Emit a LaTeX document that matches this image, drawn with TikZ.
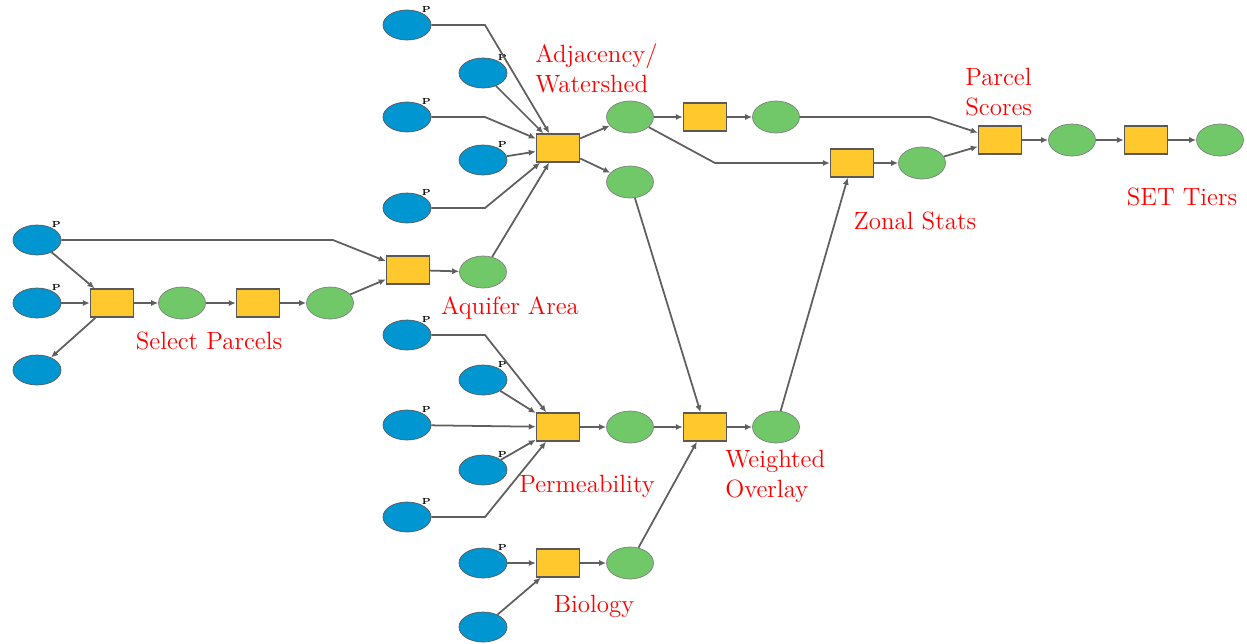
\documentclass[tikz,border=0pt]{standalone}
\usetikzlibrary{arrows.meta,shapes.geometric}
\definecolor{inblue}{RGB}{0,150,210}
\definecolor{outgreen}{RGB}{112,200,104}
\definecolor{toolyellow}{RGB}{255,200,45}
\definecolor{linkgray}{RGB}{95,95,95}

\tikzset{
  inputnode/.style={ellipse,draw=black!65,fill=inblue,minimum width=0.96cm,minimum height=0.6cm,inner sep=0pt},
  paramnode/.style={inputnode,label={[inner sep=0pt,font=\fontsize{5}{5}\selectfont\bfseries]40:P}},
  outputnode/.style={ellipse,draw=black!50,fill=outgreen,minimum width=0.94cm,minimum height=0.64cm,inner sep=0pt},
  toolnode/.style={rectangle,draw=black!65,line width=0.8pt,fill=toolyellow,minimum width=0.86cm,minimum height=0.56cm,inner sep=0pt},
  link/.style={draw=linkgray,line width=1pt,-{Latex[length=4pt,width=3.5pt]}},
  steplabel/.style={text=red,font=\fontsize{14.2}{17}\selectfont,inner sep=0pt}
}

\begin{document}
\begin{tikzpicture}[x=0.02cm,y=-0.02cm]
    \useasboundingbox (0,0) rectangle (1247,643);

    % select parcels
    \node[paramnode] (aq) at (37,240) {};
    \node[paramnode] (par) at (37,303) {};
    \node[inputnode] (sel) at (37,370) {};
    \node[toolnode] (tsel) at (112,303) {};
    \node[outputnode] (gsel) at (182,303) {};
    \node[toolnode] (tcopy) at (258,303) {};
    \node[outputnode] (gcopy) at (330,303) {};
    \node[toolnode] (tclip) at (408,270) {};
    \node[outputnode] (gclip) at (483,272) {};

    % adjacency / watershed
    \node[paramnode] (wa) at (407,25) {};
    \node[paramnode] (wb) at (483,73) {};
    \node[paramnode] (wc) at (407,117) {};
    \node[paramnode] (wd) at (483,160) {};
    \node[paramnode] (we) at (407,208) {};
    \node[toolnode] (tadj) at (558,148) {};
    \node[outputnode] (gadj) at (630,117) {};
    \node[outputnode] (gwat) at (630,182) {};
    \node[toolnode] (tjoin) at (705,117) {};
    \node[outputnode] (gjoin) at (776,117) {};

    % zonal stats, scores, tiers
    \node[toolnode] (tzone) at (852,163) {};
    \node[outputnode] (gzone) at (922,163) {};
    \node[toolnode] (tscore) at (1000,140) {};
    \node[outputnode] (gscore) at (1072,140) {};
    \node[toolnode] (ttier) at (1146,140) {};
    \node[outputnode] (gtier) at (1220,140) {};

    % permeability
    \node[paramnode] (pa) at (407,335) {};
    \node[paramnode] (pb) at (483,380) {};
    \node[paramnode] (pc) at (407,425) {};
    \node[paramnode] (pd) at (483,470) {};
    \node[paramnode] (pe) at (407,517) {};
    \node[toolnode] (tperm) at (558,427) {};
    \node[outputnode] (gperm) at (630,427) {};
    \node[toolnode] (twov) at (705,427) {};
    \node[outputnode] (gwov) at (776,427) {};

    % biology
    \node[paramnode] (ba) at (483,563) {};
    \node[inputnode] (bb) at (483,627) {};
    \node[toolnode] (tbio) at (558,563) {};
    \node[outputnode] (gbio) at (630,563) {};

    \draw[link] (aq) -- (333,240) -- (tclip);
    \draw[link] (aq) -- (tsel);
    \draw[link] (par) -- (tsel);
    \draw[link] (tsel) -- (sel);
    \draw[link] (tsel) -- (gsel);
    \draw[link] (gsel) -- (tcopy);
    \draw[link] (tcopy) -- (gcopy);
    \draw[link] (gcopy) -- (tclip);
    \draw[link] (tclip) -- (gclip);

    \draw[link] (wa) -- (485,25) -- (tadj);
    \draw[link] (wb) -- (tadj);
    \draw[link] (wc) -- (485,117) -- (tadj);
    \draw[link] (wd) -- (tadj);
    \draw[link] (we) -- (485,208) -- (tadj);
    \draw[link] (gclip) -- (tadj);
    \draw[link] (tadj) -- (gadj);
    \draw[link] (tadj) -- (gwat);
    \draw[link] (gadj) -- (tjoin);
    \draw[link] (tjoin) -- (gjoin);
    \draw[link] (gadj) -- (715,163) -- (tzone);
    \draw[link] (gjoin) -- (930,117) -- (tscore);
    \draw[link] (tzone) -- (gzone);
    \draw[link] (gzone) -- (tscore);
    \draw[link] (tscore) -- (gscore);
    \draw[link] (gscore) -- (ttier);
    \draw[link] (ttier) -- (gtier);

    \draw[link] (pa) -- (485,335) -- (tperm);
    \draw[link] (pb) -- (tperm);
    \draw[link] (pc) -- (tperm);
    \draw[link] (pd) -- (tperm);
    \draw[link] (pe) -- (485,517) -- (tperm);
    \draw[link] (tperm) -- (gperm);
    \draw[link] (gperm) -- (twov);
    \draw[link] (gwat) -- (twov);
    \draw[link] (twov) -- (gwov);
    \draw[link] (gwov) -- (tzone);

    \draw[link] (ba) -- (tbio);
    \draw[link] (bb) -- (tbio);
    \draw[link] (tbio) -- (gbio);
    \draw[link] (gbio) -- (twov);

    % step labels
    \node[steplabel,align=left,anchor=west] (ladj) at (535,68) {Adjacency/\\Watershed};
    \node[steplabel,align=left,anchor=west] (lscore) at (965,92) {Parcel\\Scores};
    \node[steplabel] (ltier) at (1182,197) {SET Tiers};
    \node[steplabel] (lzone) at (915,221) {Zonal Stats};
    \node[steplabel] (laq) at (510,308) {Aquifer Area};
    \node[steplabel] (lsel) at (209,341) {Select Parcels};
    \node[steplabel] (lperm) at (587,486) {Permeability};
    \node[steplabel,align=left,anchor=west] (lwov) at (725,476) {Weighted\\Overlay};
    \node[steplabel] (lbio) at (594,606) {Biology};
\end{tikzpicture}
\end{document}
